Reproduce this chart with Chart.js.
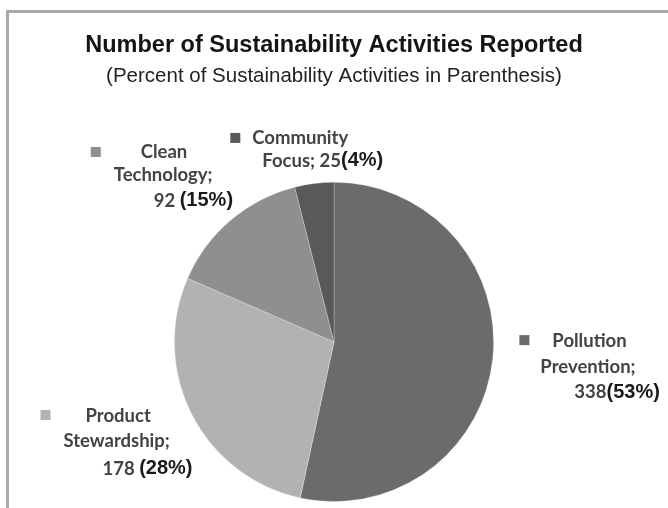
<!DOCTYPE html>
<html>
<head>
<meta charset="utf-8">
<script src="https://cdn.jsdelivr.net/npm/chart.js@4.4.1/dist/chart.umd.min.js"></script>
<style>
  html, body { margin: 0; padding: 0; background: #fff; }
  #wrap { position: relative; width: 668px; height: 508px; }
  #frame {
    position: absolute; left: 6px; top: 10px; right: 0; bottom: 0;
    border-top: 3px solid #a9a9a9; border-left: 3px solid #a9a9a9;
    pointer-events: none;
  }
</style>
</head>
<body>
<div id="wrap">
  <canvas id="pie" width="668" height="508"></canvas>
  <div id="frame"></div>
</div>
<script>
// data
const categories = ["Pollution Prevention", "Product Stewardship", "Clean Technology", "Community Focus"];
const counts = [338, 178, 92, 25];
const percents = [53, 28, 15, 4];
const colors = ["#6b6b6d", "#b2b2b4", "#8f8f91", "#59595b"];

// label text, split in lines the way the picture has them
const labelLines = [
  [["Pollution"], ["Prevention;"], ["338", "(53%)"]],
  [["Product"], ["Stewardship;"], ["178 ", "(28%)"]],
  [["Clean"], ["Technology;"], ["92 ", "(15%)"]],
  [["Community"], ["Focus; 25", "(4%)"]]
];

// layout: offsets from the point at 1.25 r on each slice's middle angle
const labelLayout = [
  { marker: [-13, -23], lines: [[20, -22], [8, 4], [42, 29]] },
  { marker: [-116, -18], lines: [[-71, -17], [-93, 8], [-54, 36]] },
  { marker: [-114, -38], lines: [[-64, -38], [-91, -15], [-51, 11]] },
  { marker: [-79, -6], lines: [[-57, -6], [-47, 17]] }
];

const nameFont = "bold 18.5px Lato";
const pctFont = "bold 20px 'Liberation Sans', Arial";

const sliceLabels = {
  id: "sliceLabels",
  afterDatasetsDraw(chart) {
    const ctx = chart.ctx;
    const arcs = chart.getDatasetMeta(0).data;
    ctx.save();
    ctx.textBaseline = "middle";
    ctx.textAlign = "left";
    arcs.forEach((arc, i) => {
      const mid = (arc.startAngle + arc.endAngle) / 2;
      const ax = arc.x + Math.cos(mid) * arc.outerRadius * 1.25;
      const ay = arc.y + Math.sin(mid) * arc.outerRadius * 1.25;
      const lay = labelLayout[i];
      ctx.fillStyle = colors[i];
      ctx.fillRect(ax + lay.marker[0], ay + lay.marker[1] - 5, 10, 10);
      labelLines[i].forEach((parts, j) => {
        let x = ax + lay.lines[j][0];
        const y = ay + lay.lines[j][1];
        parts.forEach(p => {
          const isPct = p.startsWith("(");
          ctx.font = isPct ? pctFont : nameFont;
          ctx.fillStyle = isPct ? "#1a1a1a" : "#434343";
          ctx.fillText(p, x, y);
          x += ctx.measureText(p).width;
        });
      });
    });
    ctx.restore();
  }
};

new Chart(document.getElementById("pie"), {
  type: "pie",
  data: {
    labels: categories,
    datasets: [{
      data: counts,
      backgroundColor: colors,
      borderColor: "rgba(255,255,255,0.25)",
      borderWidth: 1
    }]
  },
  options: {
    responsive: false,
    animation: false,
    layout: { padding: { top: 0, bottom: 6, left: 0, right: 0 } },
    plugins: {
      legend: { display: false },
      tooltip: { enabled: false },
      title: {
        display: true,
        text: "Number of Sustainability Activities Reported",
        color: "#141414",
        font: { family: "'Liberation Sans', Arial", size: 23.5, weight: "bold" },
        padding: { top: 31, bottom: 2 }
      },
      subtitle: {
        display: true,
        text: "(Percent of Sustainability Activities in Parenthesis)",
        color: "#222",
        font: { family: "'Liberation Sans', Arial", size: 20.5 },
        padding: { top: 2.5, bottom: 93.5 }
      }
    }
  },
  plugins: [sliceLabels]
});
</script>
</body>
</html>
